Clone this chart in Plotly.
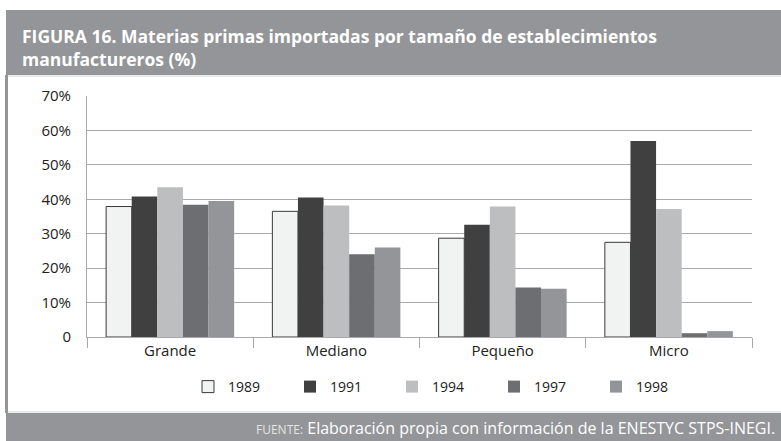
import plotly.graph_objects as go

categories = ["Grande", "Mediano", "Pequeño", "Micro"]
years = ["1989", "1991", "1994", "1997", "1998"]
values_1989 = [37.9, 36.5, 28.7, 27.5]
values_1991 = [40.8, 40.5, 32.6, 56.9]
values_1994 = [43.5, 38.2, 37.9, 37.2]
values_1997 = [38.4, 24.0, 14.4, 1.1]
values_1998 = [39.5, 26.0, 14.0, 1.7]
series = [values_1989, values_1991, values_1994, values_1997, values_1998]
tick_vals = [0, 10, 20, 30, 40, 50, 60, 70]
tick_text = ["0", "10%", "20%", "30%", "40%", "50%", "60%", "70%"]

colors = ["#f1f2f2", "#404041", "#bcbec0", "#6d6e71", "#939598"]
line_colors = ["#3a3a3a", "#404041", "#bcbec0", "#6d6e71", "#939598"]

W, H = 781, 441
L, R, T, B = 87, 29, 96, 104
PW, PH = W - L - R, H - T - B


def px(x):
    return (x - L) / PW


def py(y):
    return (H - B - y) / PH


fig = go.Figure()
for name, vals, c, lc in zip(years, series, colors, line_colors):
    fig.add_trace(go.Bar(
        x=categories, y=vals, name=name,
        marker=dict(color=c, line=dict(color=lc, width=1 if name == "1989" else 0)),
    ))

gray = "#939598"
shapes = [
    dict(type="rect", xref="paper", yref="paper", x0=px(6), x1=px(W + 2), y0=py(75), y1=py(10),
         fillcolor=gray, line=dict(width=0), layer="below"),
    dict(type="rect", xref="paper", yref="paper", x0=px(6), x1=px(W + 2), y0=py(H + 2), y1=py(413),
         fillcolor=gray, line=dict(width=0), layer="below"),
    dict(type="rect", xref="paper", yref="paper", x0=px(5), x1=px(8), y0=py(413), y1=py(75),
         fillcolor=gray, line=dict(width=0), layer="below"),
    dict(type="line", xref="paper", yref="paper", x0=px(8), x1=px(W + 2), y0=py(76), y1=py(76),
         line=dict(color="#d6d6d6", width=1), layer="below"),
    dict(type="line", xref="paper", yref="paper", x0=px(8), x1=px(W + 2), y0=py(412), y1=py(412),
         line=dict(color="#d6d6d6", width=1), layer="below"),
]

annotations = [
    dict(text="<b>FIGURA 16. Materias primas importadas por tamaño de establecimientos<br>manufactureros (%)</b>",
         xref="paper", yref="paper", x=px(20), y=py(47), xanchor="left", yanchor="middle",
         align="left", showarrow=False, font=dict(family="Open Sans", size=17.5, color="white")),
    dict(text="<span style='font-size:12px;color:#e4e4e4'>FUENTE:</span> Elaboración propia con información de la ENESTYC STPS-INEGI.",
         xref="paper", yref="paper", x=px(777), y=py(428), xanchor="right", yanchor="middle",
         showarrow=False, font=dict(family="Open Sans", size=16, color="white")),
]

fig.update_layout(
    width=W, height=H,
    margin=dict(l=L, r=R, t=T, b=B, pad=0),
    paper_bgcolor="white", plot_bgcolor="white",
    barmode="group", bargap=0.23, bargroupgap=0,
    shapes=shapes, annotations=annotations,
    showlegend=True,
    legend=dict(orientation="h", x=px(188), y=py(387), xanchor="left", yanchor="middle",
                font=dict(family="Open Sans", size=14, color="#222"),
                entrywidth=57, entrywidthmode="pixels", traceorder="normal",
                bgcolor="rgba(0,0,0,0)"),
    font=dict(family="Open Sans", color="#222"),
)
fig.update_xaxes(
    showline=True, linecolor="#a7a9ac", linewidth=1,
    ticks="outside", tickson="boundaries", ticklen=10, tickcolor="#a7a9ac",
    tickfont=dict(family="Open Sans", size=15, color="#222"),
    showgrid=False,
)
fig.update_yaxes(
    range=[0, 70], tickvals=tick_vals, ticktext=tick_text,
    showline=True, linecolor="#a7a9ac", linewidth=1,
    showgrid=True, gridcolor="#a7a9ac", gridwidth=1,
    ticks="", ticklabelstandoff=12,
    tickfont=dict(family="Open Sans", size=15, color="#222"),
    zeroline=False,
)

fig.write_html("out.html", config={"displayModeBar": False},
               post_script="document.body.style.margin='0';document.body.style.overflow='hidden';")
